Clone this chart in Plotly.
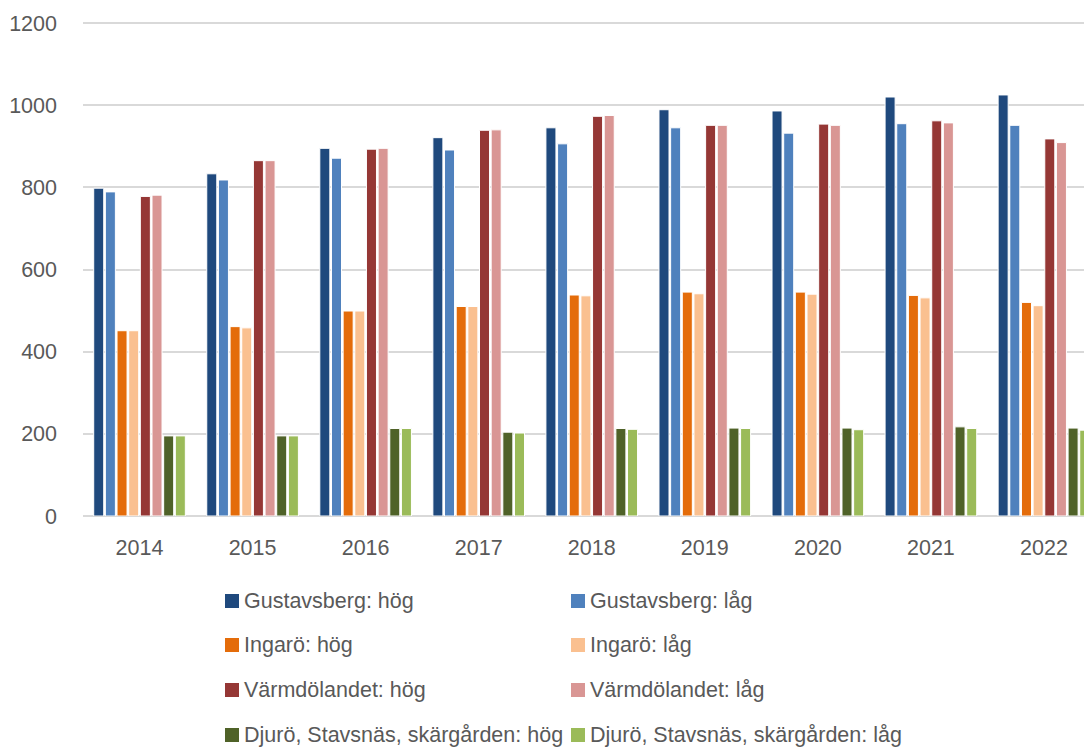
import plotly.graph_objects as go

years = ["2014", "2015", "2016", "2017", "2018", "2019", "2020", "2021", "2022"]

gustavsberg_hog = [798, 833, 895, 921, 945, 989, 986, 1020, 1025]
gustavsberg_lag = [789, 818, 871, 891, 906, 945, 932, 955, 951]
ingaro_hog = [451, 461, 499, 510, 538, 545, 545, 537, 520]
ingaro_lag = [451, 458, 499, 510, 536, 541, 540, 531, 512]
varmdo_hog = [778, 865, 893, 939, 973, 951, 954, 962, 918]
varmdo_lag = [781, 865, 895, 940, 975, 951, 951, 957, 909]
djuro_hog = [195, 195, 213, 204, 213, 214, 214, 217, 214]
djuro_lag = [195, 195, 213, 202, 211, 213, 210, 213, 209]

series_names = [
    "Gustavsberg: hög", "Gustavsberg: låg",
    "Ingarö: hög", "Ingarö: låg",
    "Värmdölandet: hög", "Värmdölandet: låg",
    "Djurö, Stavsnäs, skärgården: hög", "Djurö, Stavsnäs, skärgården: låg",
]
series_values = [gustavsberg_hog, gustavsberg_lag, ingaro_hog, ingaro_lag,
                 varmdo_hog, varmdo_lag, djuro_hog, djuro_lag]
series_colors = ["#1F497D", "#4F81BD", "#E46C0A", "#FAC090",
                 "#953735", "#D99694", "#4F6228", "#9BBB59"]

FONT = "'Liberation Sans', Arial, sans-serif"
TXT = "#595959"
FS = 21.5

# the page body has an 8px margin, so the figure is sized/offset accordingly
W, H = 1084, 739
ML, MR, MT, MB = 75, 0, 13, 231
PW, PH = W - ML - MR, H - MT - MB

fig = go.Figure()
for name, vals, color in zip(series_names, series_values, series_colors):
    fig.add_trace(go.Bar(
        x=years, y=vals, name=name, showlegend=False,
        marker=dict(color=color, line=dict(color="white", width=1)),
    ))

# manual legend (two columns, four rows) placed below the plot
def px_to_paper(px, py):
    return (px - ML) / PW, (H - MB - py) / PH

col_x = [217, 563]
row_y = [593, 637, 682, 727]
shapes, annots = [], []
for i, (name, color) in enumerate(zip(series_names, series_colors)):
    cx, ry = col_x[i % 2], row_y[i // 2]
    x0, y0 = px_to_paper(cx, ry + 7)
    x1, y1 = px_to_paper(cx + 14, ry - 7)
    shapes.append(dict(type="rect", xref="paper", yref="paper", x0=x0, y0=y0,
                       x1=x1, y1=y1, fillcolor=color, line=dict(width=0)))
    tx, ty = px_to_paper(cx + 17, ry)
    annots.append(dict(xref="paper", yref="paper", x=tx, y=ty, text=name,
                       showarrow=False, xanchor="left", yanchor="middle",
                       font=dict(family=FONT, size=FS, color=TXT)))

fig.update_layout(
    width=W, height=H,
    margin=dict(l=ML, r=MR, t=MT, b=MB, autoexpand=False),
    paper_bgcolor="white", plot_bgcolor="white",
    barmode="group", bargap=0.175, bargroupgap=0.14,
    font=dict(family=FONT, size=FS, color=TXT),
    xaxis=dict(type="category", range=[-0.5, 8.425], showgrid=False,
               showline=False, ticks="", ticklabelstandoff=16,
               tickfont=dict(family=FONT, size=FS, color=TXT)),
    yaxis=dict(range=[0, 1205], tickvals=[0, 200, 400, 600, 800, 1000, 1200],
               showgrid=True, gridcolor="#D9D9D9",
               gridwidth=1.5, zeroline=True, zerolinecolor="#D9D9D9", zerolinewidth=1.5,
               showline=False, ticks="", ticklabelstandoff=25,
               tickfont=dict(family=FONT, size=FS, color=TXT)),
    shapes=shapes, annotations=annots,
    showlegend=False,
)

fig.write_html("out.html")
